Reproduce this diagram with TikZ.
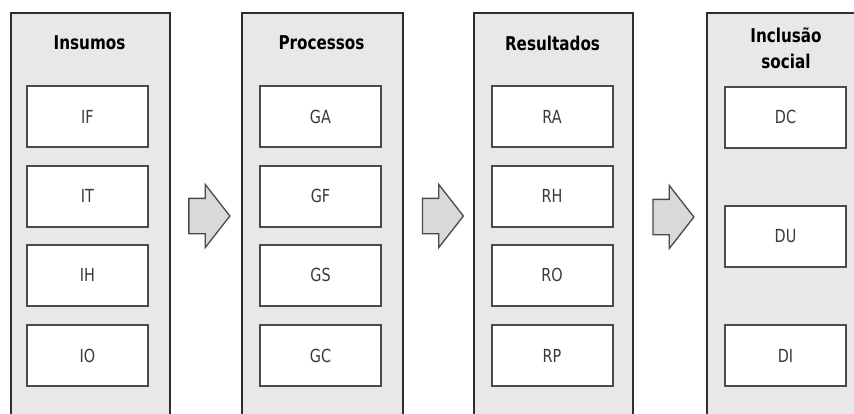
\documentclass[tikz,border=0pt]{standalone}
\usepackage{fontspec}
\usetikzlibrary{shapes.arrows}
\newfontfamily\dvfont[FakeStretch=0.8]{DejaVu Sans}
\definecolor{panelfill}{HTML}{E8E8E8}
\definecolor{paneledge}{HTML}{2E2E2E}
\definecolor{boxedge}{HTML}{4A4A4A}
\definecolor{labeltext}{HTML}{3A3A3A}
\definecolor{arrowfill}{HTML}{D9D9D9}
\tikzset{
  panel/.style={draw=paneledge, fill=panelfill, line width=1.5pt, anchor=north west,
    minimum height=430pt, inner sep=0pt},
  title/.style={font=\dvfont\fontsize{19}{26}\selectfont\bfseries, text=black, align=center, inner sep=0pt},
  itembox/.style={draw=boxedge, fill=white, line width=2pt, minimum width=121pt,
    minimum height=61pt, inner sep=0pt, text=labeltext, font=\dvfont\fontsize{18}{20}\selectfont},
  flowarrow/.style={single arrow, draw=boxedge, fill=arrowfill, line width=1.3pt,
    minimum height=41pt, inner xsep=0pt, inner ysep=17pt, text width=0pt, text height=0pt, text depth=0pt,
    single arrow head extend=14pt, single arrow tip angle=104, shape border rotate=0}
}
\begin{document}
\begin{tikzpicture}[x=1pt,y=-1pt]
\useasboundingbox (0,0) rectangle (854,413);
\clip (0,0) rectangle (854,413);
\fill[white] (0,0) rectangle (854,413);
% panels
\node[panel, minimum width=159pt] (p1) at (10,12) {};
\node[panel, minimum width=161pt] (p2) at (241,12) {};
\node[panel, minimum width=159pt] (p3) at (473,12) {};
\node[panel, minimum width=160pt] (p4) at (706,12) {};
% titles
\node[title] (t1) at (89.5,43) {Insumos};
\node[title] (t2) at (321.5,43) {Processos};
\node[title] (t3) at (552.5,43) {Resultados};
\node[title] (t4) at (786,48.5) {Inclusão\\social};
% column 1
\node[itembox] (if) at (87.5,116.5) {IF};
\node[itembox] (it) at (87.5,196) {IT};
\node[itembox] (ih) at (87.5,275) {IH};
\node[itembox] (io) at (87.5,355.5) {IO};
% column 2
\node[itembox] (ga) at (320.5,116.5) {GA};
\node[itembox] (gf) at (320.5,196) {GF};
\node[itembox] (gs) at (320.5,275) {GS};
\node[itembox] (gc) at (320.5,355.5) {GC};
% column 3
\node[itembox] (ra) at (552,116.5) {RA};
\node[itembox] (rh) at (552,196) {RH};
\node[itembox] (ro) at (552,275) {RO};
\node[itembox] (rp) at (552,355.5) {RP};
% column 4
\node[itembox] (dc) at (785.5,117) {DC};
\node[itembox] (du) at (785.5,236) {DU};
\node[itembox] (di) at (785.5,355.5) {DI};
% arrows
\node[flowarrow] (a1) at (202.5,216) {};
\node[flowarrow] (a2) at (436,216) {};
\node[flowarrow] (a3) at (666.5,217) {};
\end{tikzpicture}
\end{document}
